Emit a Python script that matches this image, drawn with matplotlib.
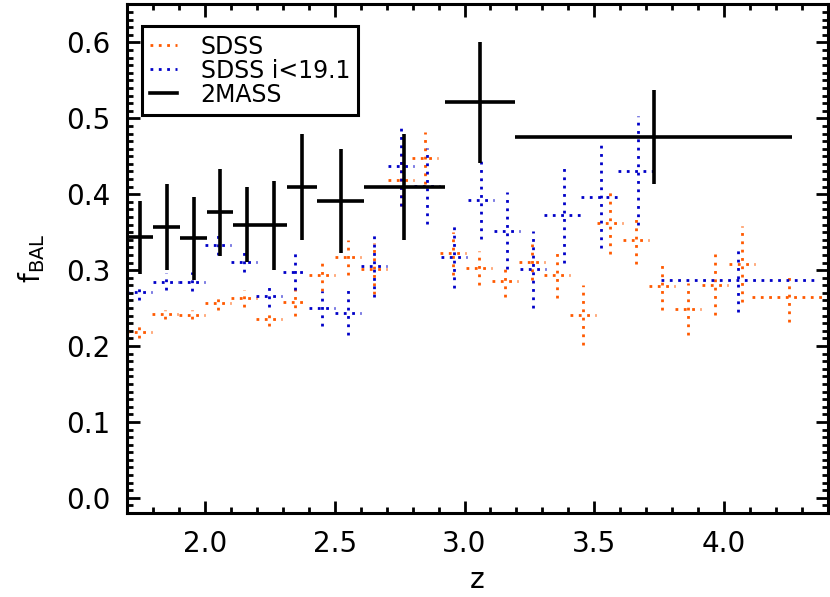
import numpy as np
import matplotlib
matplotlib.use('Agg')
import matplotlib.pyplot as plt
from matplotlib.ticker import MultipleLocator, FormatStrFormatter

###################################################
# SDSS (all)
z_sdss = [1.746, 1.846, 1.949, 2.049, 2.149, 2.248, 2.349, 2.450, 2.550, 2.651,
          2.754, 2.847, 2.954, 3.055, 3.155, 3.259, 3.356, 3.458, 3.559, 3.661,
          3.762, 3.862, 3.965, 4.068, 4.249]
dz_sdss = [0.05]*24 + [0.14]
f_sdss = [0.219, 0.242, 0.241, 0.257, 0.263, 0.236, 0.258, 0.294, 0.317, 0.302,
          0.419, 0.448, 0.322, 0.303, 0.286, 0.311, 0.294, 0.241, 0.362, 0.340,
          0.279, 0.249, 0.281, 0.308, 0.264]
err_sdss = [0.008, 0.006, 0.006, 0.010, 0.011, 0.010, 0.019, 0.021, 0.023, 0.034,
            0.034, 0.034, 0.028, 0.022, 0.022, 0.024, 0.031, 0.039, 0.041, 0.032,
            0.031, 0.034, 0.040, 0.050, 0.032]

# SDSS i<19.1
z_bright = [1.748, 1.849, 1.949, 2.049, 2.149, 2.248, 2.349, 2.450, 2.552, 2.652,
            2.755, 2.857, 2.961, 3.062, 3.164, 3.265, 3.382, 3.525, 3.667, 4.055]
dz_bright = [0.05]*16 + [0.075, 0.075, 0.075, 0.30]
f_bright = [0.271, 0.285, 0.285, 0.333, 0.311, 0.266, 0.298, 0.250, 0.244, 0.306,
            0.437, 0.411, 0.317, 0.393, 0.352, 0.301, 0.373, 0.397, 0.431, 0.287]
err_bright = [0.011, 0.011, 0.012, 0.013, 0.013, 0.014, 0.024, 0.023, 0.030, 0.042,
              0.052, 0.050, 0.041, 0.052, 0.051, 0.051, 0.063, 0.068, 0.072, 0.042]

# 2MASS, bin edges
zlo_2mass = [1.700, 1.801, 1.905, 2.008, 2.110, 2.213, 2.316, 2.433, 2.612, 2.925, 3.196]
zhi_2mass = [1.801, 1.905, 2.008, 2.110, 2.213, 2.316, 2.433, 2.612, 2.925, 3.196, 4.263]
f_2mass = [0.343, 0.357, 0.342, 0.376, 0.360, 0.359, 0.410, 0.391, 0.410, 0.521, 0.475]
err_2mass = [0.048, 0.057, 0.055, 0.057, 0.049, 0.059, 0.070, 0.068, 0.070, 0.080, 0.062]
##################################################

orange = '#FF5A00'
blue = '#0000C8'
dots = (0, (1, 2))

plt.rcParams['font.family'] = ['DejaVu Sans']
plt.rcParams['mathtext.fontset'] = 'dejavusans'

fig = plt.figure(figsize=(8.3, 5.97), dpi=100, facecolor='w')
ax = fig.add_axes([0.153, 0.1407, 0.8446, 0.8518])


def crosses(z, dz, f, err, clr, ls, lw, label):
    z = np.array(z); dz = np.array(dz); f = np.array(f); err = np.array(err)
    ax.hlines(f, z-dz, z+dz, colors=clr, linestyles=ls, linewidth=lw)
    ax.vlines(z, f-err, f+err, colors=clr, linestyles=ls, linewidth=lw)
    ax.plot([], [], color=clr, linestyle=ls, linewidth=lw, label=label)


crosses(z_sdss, dz_sdss, f_sdss, err_sdss, orange, dots, 2.0, 'SDSS')
crosses(z_bright, dz_bright, f_bright, err_bright, blue, dots, 2.0, 'SDSS i<19.1')
zlo = np.array(zlo_2mass); zhi = np.array(zhi_2mass)
crosses((zlo+zhi)/2, (zhi-zlo)/2, f_2mass, err_2mass, 'black', '-', 2.6, '2MASS')

ax.set_xlim(1.7, 4.4)
ax.set_ylim(-0.02, 0.65)
ax.xaxis.set_major_locator(MultipleLocator(0.5))
ax.xaxis.set_minor_locator(MultipleLocator(0.1))
ax.yaxis.set_major_locator(MultipleLocator(0.1))
ax.yaxis.set_minor_locator(MultipleLocator(0.01))
ax.xaxis.set_major_formatter(FormatStrFormatter('%.1f'))
ax.yaxis.set_major_formatter(FormatStrFormatter('%.1f'))
ax.tick_params(which='both', direction='in', top=True, right=True, width=2, colors='black')
ax.tick_params(which='major', length=9, labelsize=20, pad=12)
ax.tick_params(which='minor', length=4.5)
for s in ax.spines.values():
    s.set_linewidth(2.2)

ax.set_xlabel('z', fontsize=20, labelpad=6)
ax.set_ylabel(r'f$_{\mathrm{BAL}}$', fontsize=20, labelpad=14)

leg = ax.legend(loc='upper left', bbox_to_anchor=(0.021, 0.957), borderaxespad=0,
                fontsize=17, fancybox=False, framealpha=1, edgecolor='black',
                handlelength=1.15, handletextpad=1.0, labelspacing=0.0, borderpad=0.35)
leg.get_frame().set_linewidth(2.2)

plt.savefig('out.png', dpi=100)
